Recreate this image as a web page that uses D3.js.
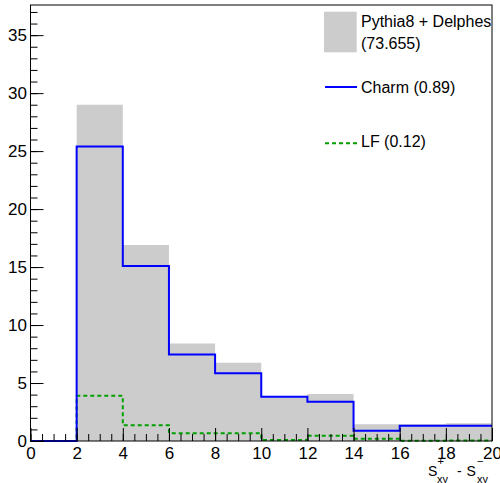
<!DOCTYPE html>
<html>
<head>
<meta charset="utf-8">
<script src="https://cdn.jsdelivr.net/npm/d3@7"></script>
<style>
  body { margin: 0; background: #fff; }
  text { font-family: "Liberation Sans", Arial, Helvetica, sans-serif; }
</style>
</head>
<body>
<div id="chart"></div>
<script>
// bin low edges (width 2), x from 0 to 20
var binEdges = [0, 2, 4, 6, 8, 10, 12, 14, 16, 18, 20];
// Pythia8 + Delphes (total, grey fill)
var totalValues = [0, 29.0, 16.9, 8.4, 6.75, 3.85, 4.05, 1.45, 1.45, 1.53];
// Charm (blue)
var charmValues = [0, 25.4, 15.1, 7.47, 5.84, 3.82, 3.39, 0.89, 1.32, 1.32];
// LF (green dashed)
var lfValues = [0, 3.9, 1.35, 0.66, 0.66, 0.08, 0.45, 0.2, 0.02, 0.05];

var xTicks = [0, 2, 4, 6, 8, 10, 12, 14, 16, 18, 20];
var yTicks = [0, 5, 10, 15, 20, 25, 30, 35];
var legendLabels = ["Pythia8 + Delphes", "(73.655)", "Charm (0.89)", "LF (0.12)"];

var W = 500, H = 483;
// frame edges (avoid "top", it is window.top)
var fLeft = 30.5, fRight = 492, fTop = 5, fBottom = 441;

var svg = d3.select("#chart").append("svg")
    .attr("width", W)
    .attr("height", H);

var x = d3.scaleLinear().domain([0, 20]).range([fLeft, fRight]);
var y = d3.scaleLinear().domain([0, 37.6]).range([fBottom, fTop]);

// turn bin values into step points (last point closes the final bin)
function steps(vals) {
  var pts = vals.map(function(v, i) { return [binEdges[i], v]; });
  pts.push([binEdges[vals.length], vals[vals.length - 1]]);
  return pts;
}

// grey total histogram
var area = d3.area()
    .x(function(d) { return x(d[0]); })
    .y0(y(0))
    .y1(function(d) { return y(d[1]); })
    .curve(d3.curveStepAfter);
svg.append("path")
    .datum(steps(totalValues))
    .attr("d", area)
    .style("fill", "#cccccc")
    .style("stroke", "none");

var line = d3.line()
    .x(function(d) { return x(d[0]); })
    .y(function(d) { return y(d[1]); })
    .curve(d3.curveStepAfter);

// LF
svg.append("path")
    .datum(steps(lfValues))
    .attr("d", line)
    .style("fill", "none")
    .style("stroke", "#00a000")
    .style("stroke-width", 2)
    .style("stroke-dasharray", "4,3");

// Charm
svg.append("path")
    .datum(steps(charmValues))
    .attr("d", line)
    .style("fill", "none")
    .style("stroke", "#0000ff")
    .style("stroke-width", 2);

// axes: minor ticks first, then major with labels
var fmt = d3.format("d");
svg.append("g")
    .attr("transform", "translate(0," + fBottom + ")")
    .call(d3.axisBottom(x).tickValues(d3.range(0, 20.01, 0.5)).tickSize(-7).tickFormat(""))
    .call(function(g) { g.select(".domain").remove(); });
svg.append("g")
    .attr("class", "xaxis")
    .attr("transform", "translate(0," + fBottom + ")")
    .call(d3.axisBottom(x).tickValues(xTicks).tickSize(-13).tickPadding(6).tickFormat(fmt))
    .call(function(g) { g.select(".domain").remove(); });

svg.append("g")
    .attr("transform", "translate(" + fLeft + ",0)")
    .call(d3.axisLeft(y).tickValues(d3.range(0, 37.01, 1)).tickSize(-7).tickFormat(""))
    .call(function(g) { g.select(".domain").remove(); });
svg.append("g")
    .attr("class", "yaxis")
    .attr("transform", "translate(" + fLeft + ",0)")
    .call(d3.axisLeft(y).tickValues(yTicks).tickSize(-13).tickPadding(3.5).tickFormat(fmt))
    .call(function(g) { g.select(".domain").remove(); });

svg.selectAll(".tick line").style("stroke", "black").style("stroke-width", 1);
svg.selectAll(".xaxis text, .yaxis text")
    .style("font-family", "'Liberation Sans', Arial, Helvetica, sans-serif")
    .style("font-size", "17px")
    .style("fill", "black");

// frame
svg.append("rect")
    .attr("x", fLeft).attr("y", fTop)
    .attr("width", fRight - fLeft).attr("height", fBottom - fTop)
    .style("fill", "none")
    .style("stroke", "black")
    .style("stroke-width", 1);

// x title S+xy - S-xy, pieces placed like ROOT's stacked super/subscripts
var titleParts = [
  {t: "S", x: 428, y: 476, s: 14},
  {t: "+", x: 437.5, y: 465, s: 11},
  {t: "xy", x: 437, y: 483, s: 11},
  {t: "-", x: 457, y: 476, s: 14},
  {t: "S", x: 466.5, y: 476, s: 14},
  {t: "\u2212", x: 477, y: 465, s: 11},
  {t: "xy", x: 477, y: 483, s: 11}
];
svg.selectAll("text.xtitle")
    .data(titleParts)
    .enter()
    .append("text")
    .attr("class", "xtitle")
    .attr("x", function(d) { return d.x; })
    .attr("y", function(d) { return d.y; })
    .style("font-size", function(d) { return d.s + "px"; })
    .style("fill", "black")
    .text(function(d) { return d.t; });

// legend
var lg = svg.append("g");
lg.append("rect")
    .attr("x", 324).attr("y", 11.7)
    .attr("width", 32.7).attr("height", 40.6)
    .style("fill", "#cccccc");
lg.append("line")
    .attr("x1", 325).attr("x2", 357).attr("y1", 87).attr("y2", 87)
    .style("stroke", "#0000ff").style("stroke-width", 2);
lg.append("line")
    .attr("x1", 325).attr("x2", 357).attr("y1", 143.3).attr("y2", 143.3)
    .style("stroke", "#00a000").style("stroke-width", 2)
    .style("stroke-dasharray", "4,3");
var legendY = [27, 48.5, 93, 147];
lg.selectAll("text.leg")
    .data(legendLabels)
    .enter()
    .append("text")
    .attr("class", "leg")
    .attr("x", 361)
    .attr("y", function(d, i) { return legendY[i]; })
    .style("font-size", "16px")
    .style("fill", "black")
    .text(function(d) { return d; });
</script>
</body>
</html>
